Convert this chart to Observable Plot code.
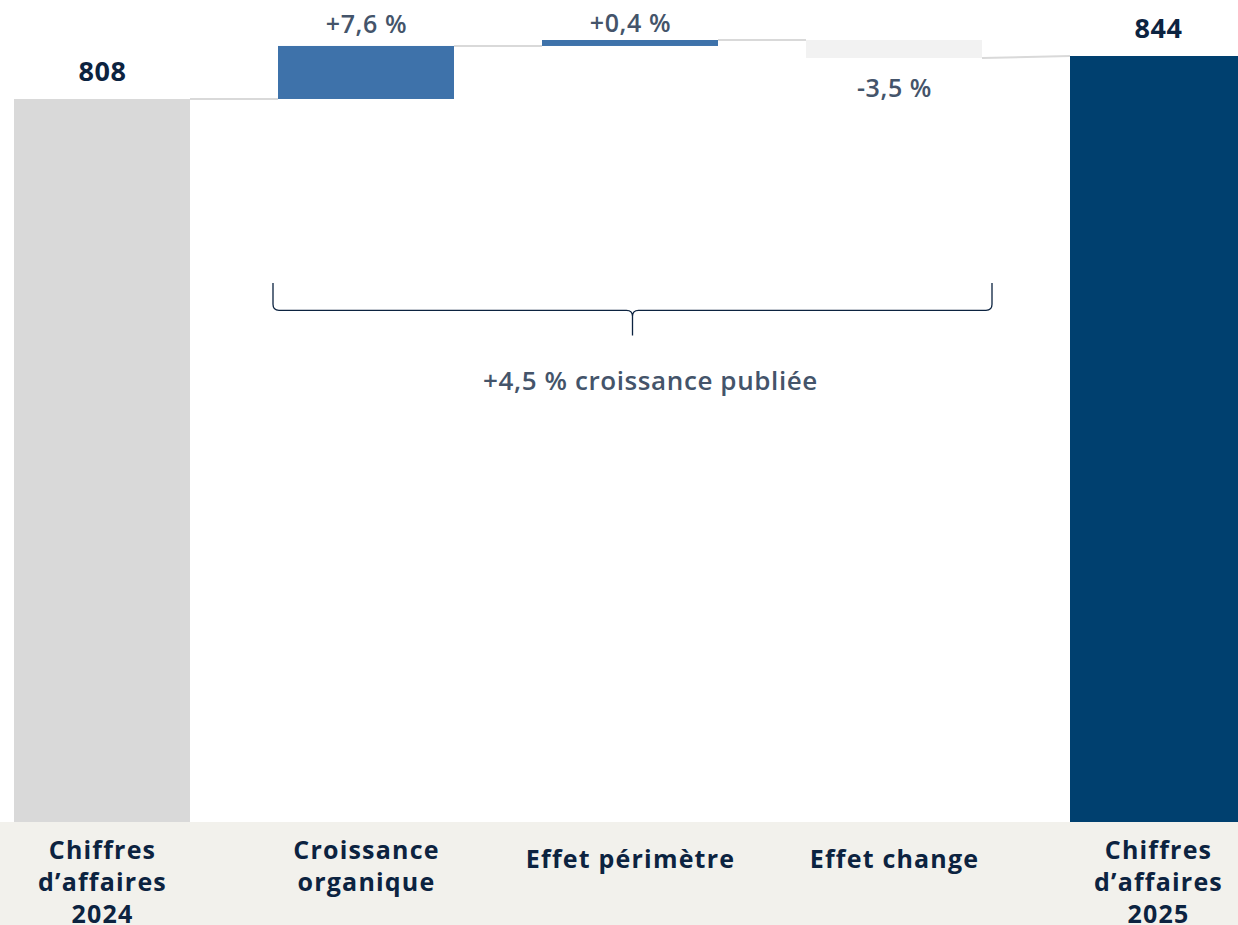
<!DOCTYPE html>
<html><head><meta charset="utf-8">
<script src="https://cdn.jsdelivr.net/npm/d3@7"></script>
<script src="https://cdn.jsdelivr.net/npm/@observablehq/plot@0.6"></script>
<style>
body{margin:0;background:#fff;}
#chart svg{display:block;}
#chart svg text{letter-spacing:0.6px;}
#chart svg g[aria-label="x-axis tick label"] text{letter-spacing:1.2px;}
</style>
</head><body><div id="chart"></div>
<script>
// ---- data ----
const categories = ["Chiffres\nd’affaires\n2024", "Croissance\norganique", "Effet périmètre", "Effet change", "Chiffres\nd’affaires\n2025"];
const kinds = ["total", "up", "up", "down", "total"];
const values = [808, 44.4, 5, -15.1, 844];           // bar heights as drawn
const labels = ["808", "+7,6 %", "+0,4 %", "-3,5 %", "844"];
const colors = ["#d9d9d9", "#3e72aa", "#3e72aa", "#f2f2f2", "#00406f"];
const yDomain = [202.5, 890.9];
const annotation = "+4,5 % croissance publiée";
const annotationLevel = 572;
const braceLevels = [654, 631, 610]; // top, middle, tip (chart units)

let run = 0;
const rows = categories.map((c, i) => {
  let y1, y2, start;
  if (kinds[i] === "total") { y1 = yDomain[0]; y2 = values[i]; start = values[i]; run = values[i]; }
  else { y1 = run; y2 = run + values[i]; start = run; run = y2; }
  return {cat: c, kind: kinds[i], y1, y2, start, end: y2, top: Math.max(y1, y2), bottom: Math.min(y1, y2), label: labels[i], color: colors[i], i};
});

function overlay(index, scales) {
  const {x, y} = scales;
  const bw = x.bandwidth ? x.bandwidth() : 176;
  const g = d3.create("svg:g");
  for (let i = 0; i < rows.length - 1; i++) {
    const a = rows[i], b = rows[i + 1];
    g.append("line")
      .attr("x1", x(a.cat) + bw).attr("x2", x(b.cat))
      .attr("y1", y(a.end)).attr("y2", y(b.start))
      .attr("stroke", "#d9d9d9").attr("stroke-width", 2);
  }
  const xl = x(categories[1]) - 5, xr = x(categories[3]) + bw + 10, xm = (xl + xr) / 2;
  const yt = y(braceLevels[0]), ym = y(braceLevels[1]), yb = y(braceLevels[2]);
  const r = 6;
  const p = `M${xl},${yt} L${xl},${ym - r} Q${xl},${ym} ${xl + r},${ym} L${xm - r},${ym} Q${xm},${ym} ${xm},${ym + r} L${xm},${yb} M${xm},${ym + r} Q${xm},${ym} ${xm + r},${ym} L${xr - r},${ym} Q${xr},${ym} ${xr},${ym - r} L${xr},${yt}`;
  g.append("path").attr("d", p).attr("fill", "none").attr("stroke", "#0c2340").attr("stroke-width", 1.3);
  return g.node();
}

const font = "Open Sans, sans-serif";
const ups = rows.filter(d => d.kind === "up");
const chart = Plot.plot({
  width: 1238, height: 925,
  marginTop: 0, marginBottom: 103, marginLeft: 0, marginRight: 0,
  style: {fontFamily: font, background: "linear-gradient(to bottom, #ffffff 822px, #f2f1ec 822px)", overflow: "hidden"},
  x: {domain: categories, range: [14, 1246], paddingInner: 1/3, paddingOuter: 0},
  y: {domain: yDomain, axis: null},
  marks: [
    Plot.rectY(rows, {x: "cat", y1: "y1", y2: "y2", fill: "color"}),
    overlay,
    Plot.text(rows.filter(d => d.kind === "total"), {x: "cat", y: "top", dy: -27, text: "label", fontSize: 27, fontWeight: 700, fill: "#0c2340"}),
    Plot.text(ups.slice(0, 1), {x: "cat", y: "top", dy: -21, text: "label", fontSize: 25, fontWeight: 600, fill: "#44546a"}),
    Plot.text(ups.slice(1), {x: "cat", y: "top", dy: -17, text: "label", fontSize: 25, fontWeight: 600, fill: "#44546a"}),
    Plot.text(rows.filter(d => d.kind === "down"), {x: "cat", y: "bottom", dy: 30, text: "label", fontSize: 25, fontWeight: 600, fill: "#44546a"}),
    Plot.text([annotation], {x: () => categories[2], y: () => annotationLevel, dx: 20, text: d => d, fontSize: 26, fontWeight: 600, fill: "#44546a"}),
    Plot.axisX(categories.filter(c => c.includes("\n")), {anchor: "bottom", tickSize: 0, tickPadding: 14, lineAnchor: "top", lineHeight: 1.28, fontSize: 25, fontWeight: 700, color: "#0c2340", label: null}),
    Plot.axisX(categories.filter(c => !c.includes("\n")), {anchor: "bottom", tickSize: 0, tickPadding: 23, lineAnchor: "top", lineHeight: 1.28, fontSize: 25, fontWeight: 700, color: "#0c2340", label: null})
  ]
});
document.getElementById("chart").append(chart);
</script></body></html>
